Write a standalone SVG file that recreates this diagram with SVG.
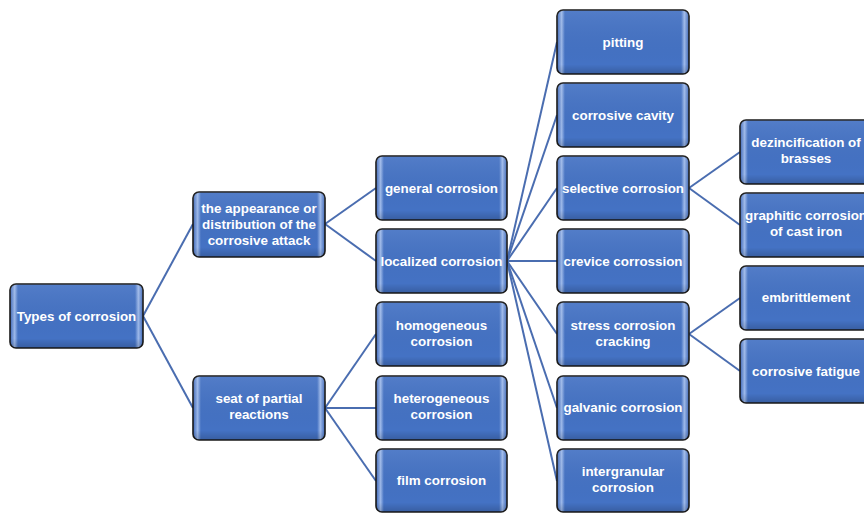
<svg xmlns="http://www.w3.org/2000/svg" width="864" height="513" viewBox="0 0 864 513">
<defs>
<linearGradient id="bev" x1="0" y1="0" x2="1" y2="0">
<stop offset="0" stop-color="#3B66B8"/>
<stop offset="0.035" stop-color="#9DB9EA"/>
<stop offset="0.06" stop-color="#4472C4"/>
<stop offset="0.94" stop-color="#4472C4"/>
<stop offset="0.965" stop-color="#9DB9EA"/>
<stop offset="1" stop-color="#3B66B8"/>
</linearGradient>
<linearGradient id="shade" x1="0" y1="0" x2="0" y2="1">
<stop offset="0" stop-color="#ffffff" stop-opacity="0.08"/>
<stop offset="0.85" stop-color="#000000" stop-opacity="0"/>
<stop offset="1" stop-color="#000000" stop-opacity="0.18"/>
</linearGradient>
</defs>
<style>
.box{fill:url(#bev);stroke:#1a1a1a;stroke-width:1.6}
.sh{fill:url(#shade);stroke:none}
.t{font-family:"Liberation Sans",Arial,sans-serif;font-weight:bold;font-size:13.4px;fill:#ffffff;text-anchor:middle}
.c line{stroke:#4A6DB0;stroke-width:2}
</style>
<rect width="864" height="513" fill="#ffffff"/>
<g class="c" id="connectors">
<line x1="143" y1="316" x2="193" y2="224"/>
<line x1="143" y1="316" x2="193" y2="408"/>
<line x1="325" y1="224" x2="376" y2="188"/>
<line x1="325" y1="224" x2="376" y2="261"/>
<line x1="325" y1="408" x2="376" y2="334"/>
<line x1="325" y1="408" x2="376" y2="408"/>
<line x1="325" y1="408" x2="376" y2="481"/>
<line x1="507" y1="261" x2="557" y2="42"/>
<line x1="507" y1="261" x2="557" y2="115"/>
<line x1="507" y1="261" x2="557" y2="188"/>
<line x1="507" y1="261" x2="557" y2="261"/>
<line x1="507" y1="261" x2="557" y2="334"/>
<line x1="507" y1="261" x2="557" y2="408"/>
<line x1="507" y1="261" x2="557" y2="481"/>
<line x1="689" y1="188" x2="740" y2="152"/>
<line x1="689" y1="188" x2="740" y2="225"/>
<line x1="689" y1="334" x2="740" y2="298"/>
<line x1="689" y1="334" x2="740" y2="371"/>
</g>
<g id="types">
<rect class="box" x="10" y="284" width="133" height="64" rx="6"/><rect class="sh" x="10" y="284" width="133" height="64" rx="6"/>
<text class="t" x="76.5" y="321">Types of corrosion</text>
</g>
<g id="appearance">
<rect class="box" x="193" y="192" width="132" height="65" rx="6"/><rect class="sh" x="193" y="192" width="132" height="65" rx="6"/>
<text class="t" x="259" y="213">the appearance or</text>
<text class="t" x="259" y="229">distribution of the</text>
<text class="t" x="259" y="245">corrosive attack</text>
</g>
<g id="seat">
<rect class="box" x="193" y="376" width="132" height="64" rx="6"/><rect class="sh" x="193" y="376" width="132" height="64" rx="6"/>
<text class="t" x="259" y="403">seat of partial</text>
<text class="t" x="259" y="419">reactions</text>
</g>
<g id="general">
<rect class="box" x="376" y="156" width="131" height="64" rx="6"/><rect class="sh" x="376" y="156" width="131" height="64" rx="6"/>
<text class="t" x="441.5" y="193">general corrosion</text>
</g>
<g id="localized">
<rect class="box" x="376" y="229" width="131" height="64" rx="6"/><rect class="sh" x="376" y="229" width="131" height="64" rx="6"/>
<text class="t" x="441.5" y="266">localized corrosion</text>
</g>
<g id="homogeneous">
<rect class="box" x="376" y="302" width="131" height="64" rx="6"/><rect class="sh" x="376" y="302" width="131" height="64" rx="6"/>
<text class="t" x="441.5" y="330">homogeneous</text>
<text class="t" x="441.5" y="346">corrosion</text>
</g>
<g id="heterogeneous">
<rect class="box" x="376" y="376" width="131" height="64" rx="6"/><rect class="sh" x="376" y="376" width="131" height="64" rx="6"/>
<text class="t" x="441.5" y="403">heterogeneous</text>
<text class="t" x="441.5" y="419">corrosion</text>
</g>
<g id="film">
<rect class="box" x="376" y="449" width="131" height="63" rx="6"/><rect class="sh" x="376" y="449" width="131" height="63" rx="6"/>
<text class="t" x="441.5" y="485">film corrosion</text>
</g>
<g id="pitting">
<rect class="box" x="557" y="10" width="132" height="64" rx="6"/><rect class="sh" x="557" y="10" width="132" height="64" rx="6"/>
<text class="t" x="623" y="47">pitting</text>
</g>
<g id="cavity">
<rect class="box" x="557" y="83" width="132" height="64" rx="6"/><rect class="sh" x="557" y="83" width="132" height="64" rx="6"/>
<text class="t" x="623" y="120">corrosive cavity</text>
</g>
<g id="selective">
<rect class="box" x="557" y="156" width="132" height="64" rx="6"/><rect class="sh" x="557" y="156" width="132" height="64" rx="6"/>
<text class="t" x="623" y="193">selective corrosion</text>
</g>
<g id="crevice">
<rect class="box" x="557" y="229" width="132" height="64" rx="6"/><rect class="sh" x="557" y="229" width="132" height="64" rx="6"/>
<text class="t" x="623" y="266">crevice corrossion</text>
</g>
<g id="stress">
<rect class="box" x="557" y="302" width="132" height="64" rx="6"/><rect class="sh" x="557" y="302" width="132" height="64" rx="6"/>
<text class="t" x="623" y="330">stress corrosion</text>
<text class="t" x="623" y="346">cracking</text>
</g>
<g id="galvanic">
<rect class="box" x="557" y="376" width="132" height="64" rx="6"/><rect class="sh" x="557" y="376" width="132" height="64" rx="6"/>
<text class="t" x="623" y="412">galvanic corrosion</text>
</g>
<g id="intergranular">
<rect class="box" x="557" y="449" width="132" height="63" rx="6"/><rect class="sh" x="557" y="449" width="132" height="63" rx="6"/>
<text class="t" x="623" y="476">intergranular</text>
<text class="t" x="623" y="492">corrosion</text>
</g>
<g id="dezincification">
<rect class="box" x="740" y="120" width="132" height="64" rx="6"/><rect class="sh" x="740" y="120" width="132" height="64" rx="6"/>
<text class="t" x="806" y="147">dezincification of</text>
<text class="t" x="806" y="163">brasses</text>
</g>
<g id="graphitic">
<rect class="box" x="740" y="193" width="132" height="64" rx="6"/><rect class="sh" x="740" y="193" width="132" height="64" rx="6"/>
<text class="t" x="806" y="220">graphitic corrosion</text>
<text class="t" x="806" y="236">of cast iron</text>
</g>
<g id="embrittlement">
<rect class="box" x="740" y="266" width="132" height="64" rx="6"/><rect class="sh" x="740" y="266" width="132" height="64" rx="6"/>
<text class="t" x="806" y="302">embrittlement</text>
</g>
<g id="fatigue">
<rect class="box" x="740" y="339" width="132" height="64" rx="6"/><rect class="sh" x="740" y="339" width="132" height="64" rx="6"/>
<text class="t" x="806" y="376">corrosive fatigue</text>
</g>
</svg>
